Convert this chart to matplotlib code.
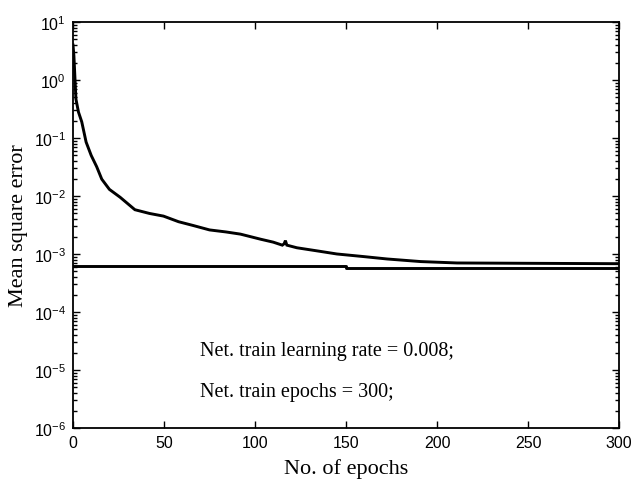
import matplotlib
matplotlib.use("Agg")
import matplotlib.pyplot as plt
from matplotlib.ticker import LogLocator, NullFormatter

# training curve
epochs = [0, 0.5, 1.6, 3, 4.8, 7.2, 10, 13, 15.8, 20, 25.9, 34, 42, 49.7, 58,
          66, 75, 84, 92, 103, 110, 115, 116, 116.7, 117.5, 123, 135, 145,
          160, 172.6, 191, 211, 253, 300]
mse = [4.0, 2.6, 0.47, 0.28, 0.19, 0.085, 0.05, 0.032, 0.0195, 0.013, 0.0095,
       0.0058, 0.005, 0.0045, 0.0036, 0.0031, 0.0026, 0.0024, 0.0022, 0.0018,
       0.0016, 0.00142, 0.0015, 0.0017, 0.00142, 0.00128, 0.00112, 0.001,
       0.0009, 0.00082, 0.00074, 0.0007, 0.00069, 0.00068]

# goal / reference line (small step at epoch 150)
goal_x = [0, 150, 150, 300]
goal_y = [6.1e-4, 6.1e-4, 5.8e-4, 5.8e-4]

notes = ["Net. train learning rate = 0.008;", "Net. train epochs = 300;"]

plt.rcParams['font.family'] = ['Liberation Sans', 'DejaVu Sans']
plt.rcParams['mathtext.fontset'] = 'custom'
plt.rcParams['mathtext.rm'] = 'Liberation Sans'
plt.rcParams['mathtext.it'] = 'Liberation Sans'

fig = plt.figure(figsize=(6.31, 4.85), dpi=100)
ax = fig.add_axes([0.1157, 0.1155, 0.981 - 0.1157, 0.9526 - 0.1155])

ax.semilogy(epochs, mse, color='black', lw=2.1, solid_joinstyle='miter')
ax.plot(goal_x, goal_y, color='black', lw=2.1)

ax.set_xlim(0, 300)
ax.set_ylim(1e-6, 1e1)
ax.set_xticks([0, 50, 100, 150, 200, 250, 300])
ax.yaxis.set_major_locator(LogLocator(base=10, numticks=10))
ax.yaxis.set_minor_locator(LogLocator(base=10, subs=range(2, 10), numticks=20))
ax.yaxis.set_minor_formatter(NullFormatter())

ax.tick_params(which='both', direction='in', top=True, right=True,
               labelsize=11.5, width=1)
ax.tick_params(which='major', length=5, pad=5)
ax.tick_params(which='minor', length=3)
for s in ax.spines.values():
    s.set_linewidth(1.3)

serif = ['Liberation Serif', 'DejaVu Serif']
ax.set_xlabel('No. of epochs', fontsize=16, family=serif, labelpad=6)
ax.set_ylabel('Mean square error', fontsize=16, family=serif, labelpad=4)

ax.text(70, 2.2e-5, notes[0], fontsize=14.5, family=serif, va='center')
ax.text(70, 4.2e-6, notes[1], fontsize=14.5, family=serif, va='center')

fig.savefig('out.png', dpi=100, facecolor='white')
